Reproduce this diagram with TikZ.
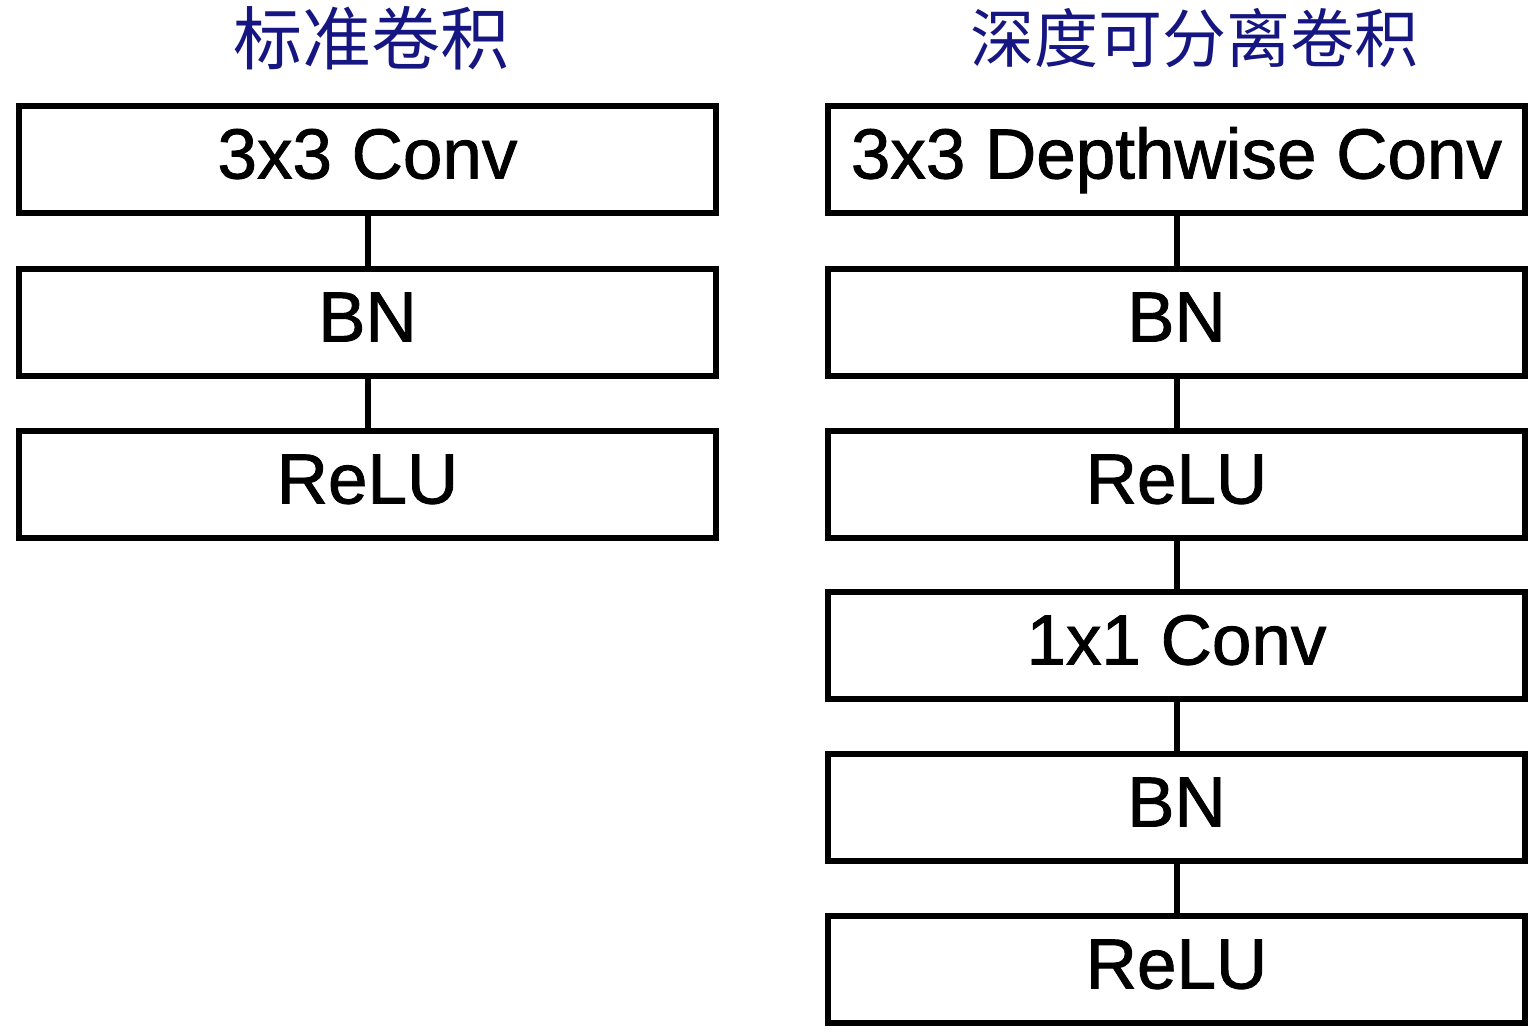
\documentclass[tikz,border=0pt]{standalone}
\usepackage{fontspec}
\setmainfont{Liberation Sans}
\newfontfamily\boxfont{Liberation Sans}[RawFeature={embolden=1.2}]
\newfontfamily\cjk{Noto Sans CJK SC}
\definecolor{inkblue}{RGB}{22,22,130}
\begin{document}
\begin{tikzpicture}[x=1pt,y=-1pt,
  layerbox/.style={draw=black,line width=6pt,minimum width=697pt,minimum height=107pt,inner sep=0pt,outer sep=0pt,
    font=\boxfont\fontsize{71}{80}\selectfont,anchor=north west,text depth=17pt,text height=55pt},
  link/.style={line width=6pt,draw=black},
  title/.style={text=inkblue,inner sep=0pt}]
\useasboundingbox (0,0) rectangle (1536,1035);
% left column
\node[layerbox] (l1) at (19,106) {3x3 Conv};
\node[layerbox] (l2) at (19,269) {BN};
\node[layerbox] (l3) at (19,431) {ReLU};
\draw[link] (l1) -- (l2);
\draw[link] (l2) -- (l3);
% right column
\node[layerbox] (r1) at (828,106) {3x3 Depthwise Conv};
\node[layerbox] (r2) at (828,269) {BN};
\node[layerbox] (r3) at (828,431) {ReLU};
\node[layerbox] (r4) at (828,592) {1x1 Conv};
\node[layerbox] (r5) at (828,754) {BN};
\node[layerbox] (r6) at (828,916) {ReLU};
\draw[link] (r1) -- (r2);
\draw[link] (r2) -- (r3);
\draw[link] (r3) -- (r4);
\draw[link] (r4) -- (r5);
\draw[link] (r5) -- (r6);
% titles
\node[title,font=\cjk\fontsize{69}{72}\selectfont] (tl) at (371,38) {标准卷积};
\node[title,font=\cjk\fontsize{64}{70}\selectfont] (tr) at (1194,38) {深度可分离卷积};
\end{tikzpicture}
\end{document}
